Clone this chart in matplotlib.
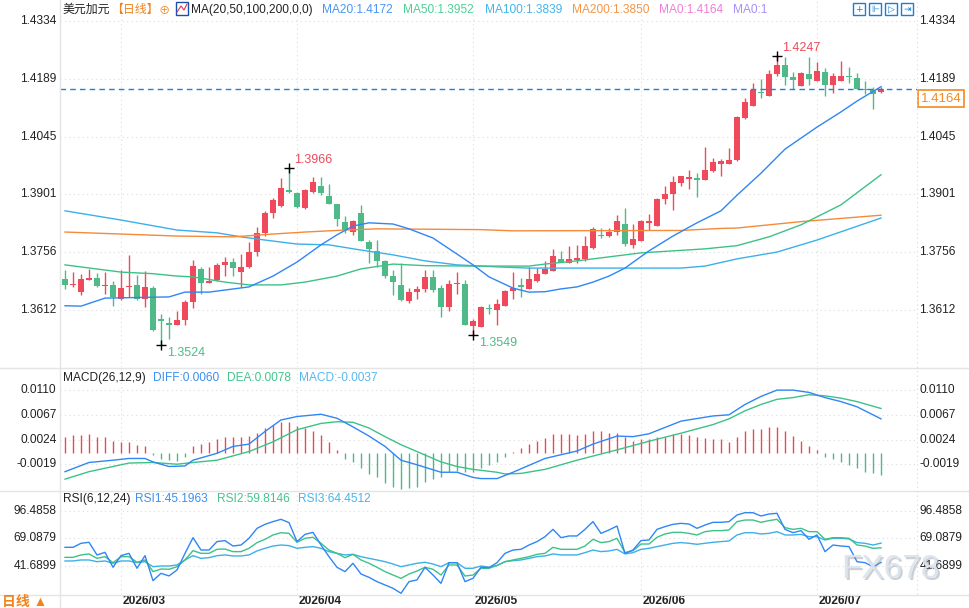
import matplotlib
matplotlib.use('Agg')
import matplotlib.pyplot as plt
import matplotlib.transforms as mtransforms
from matplotlib.patches import Rectangle
import numpy as np
import pandas as pd

plt.rcParams['font.family'] = ['Liberation Sans', 'Noto Sans CJK SC', 'DejaVu Sans']
plt.rcParams['font.size'] = 8.6

# USD/CAD daily candles
opens = [1.3690, 1.3674, 1.3657, 1.3687, 1.3692, 1.3672, 1.3675, 1.3640, 1.3670, 1.3675,
         1.3640, 1.3667, 1.3590, 1.3580, 1.3575, 1.3587, 1.3632, 1.3715, 1.3680, 1.3687,
         1.3725, 1.3732, 1.3707, 1.3720, 1.3757, 1.3805, 1.3855, 1.3872, 1.3912, 1.3904,
         1.3867, 1.3907, 1.3922, 1.3897, 1.3877, 1.3832, 1.3807, 1.3855, 1.3782, 1.3760,
         1.3735, 1.3697, 1.3675, 1.3635, 1.3657, 1.3665, 1.3695, 1.3667, 1.3620, 1.3677,
         1.3677, 1.3572, 1.3570, 1.3617, 1.3612, 1.3622, 1.3660, 1.3675, 1.3665, 1.3685,
         1.3702, 1.3710, 1.3740, 1.3730, 1.3737, 1.3740, 1.3767, 1.3800, 1.3797, 1.3807,
         1.3827, 1.3775, 1.3785, 1.3830, 1.3822, 1.3889, 1.3902, 1.3929, 1.3940, 1.3942,
         1.3937, 1.3959, 1.3977, 1.3977, 1.3987, 1.4092, 1.4122, 1.4157, 1.4147, 1.4202,
         1.4224, 1.4194, 1.4172, 1.4202, 1.4184, 1.4207, 1.4174, 1.4184, 1.4197, 1.4192,
         1.4164, 1.4162, 1.4156]
highs = [1.3712, 1.3707, 1.3702, 1.3715, 1.3705, 1.3707, 1.3685, 1.3712, 1.3750, 1.3700,
         1.3710, 1.3672, 1.3602, 1.3595, 1.3610, 1.3637, 1.3737, 1.3720, 1.3720, 1.3730,
         1.3745, 1.3742, 1.3752, 1.3782, 1.3820, 1.3860, 1.3892, 1.3942, 1.3966, 1.3907,
         1.3915, 1.3945, 1.3945, 1.3927, 1.3878, 1.3847, 1.3837, 1.3875, 1.3787, 1.3787,
         1.3736, 1.3712, 1.3730, 1.3667, 1.3672, 1.3712, 1.3712, 1.3675, 1.3687, 1.3707,
         1.3687, 1.3590, 1.3622, 1.3627, 1.3640, 1.3662, 1.3707, 1.3692, 1.3720, 1.3717,
         1.3735, 1.3765, 1.3760, 1.3772, 1.3775, 1.3797, 1.3820, 1.3817, 1.3817, 1.3850,
         1.3867, 1.3827, 1.3837, 1.3852, 1.3892, 1.3922, 1.3947, 1.3948, 1.3962, 1.3955,
         1.4019, 1.3992, 1.3989, 1.4017, 1.4096, 1.4142, 1.4179, 1.4189, 1.4212, 1.4247,
         1.4244, 1.4207, 1.4207, 1.4244, 1.4232, 1.4217, 1.4204, 1.4234, 1.4219, 1.4204,
         1.4184, 1.4169, 1.4169]
lows = [1.3665, 1.3670, 1.3650, 1.3687, 1.3671, 1.3652, 1.3622, 1.3637, 1.3645, 1.3637,
        1.3620, 1.3561, 1.3524, 1.3540, 1.3574, 1.3574, 1.3617, 1.3652, 1.3679, 1.3685,
        1.3697, 1.3697, 1.3670, 1.3717, 1.3747, 1.3797, 1.3842, 1.3869, 1.3904, 1.3867,
        1.3864, 1.3905, 1.3900, 1.3876, 1.3822, 1.3805, 1.3800, 1.3784, 1.3730, 1.3720,
        1.3692, 1.3650, 1.3636, 1.3630, 1.3640, 1.3657, 1.3657, 1.3595, 1.3610, 1.3652,
        1.3574, 1.3549, 1.3569, 1.3602, 1.3575, 1.3622, 1.3640, 1.3645, 1.3665, 1.3682,
        1.3702, 1.3710, 1.3732, 1.3730, 1.3730, 1.3735, 1.3765, 1.3792, 1.3795, 1.3800,
        1.3772, 1.3767, 1.3784, 1.3812, 1.3822, 1.3877, 1.3862, 1.3922, 1.3915, 1.3895,
        1.3936, 1.3957, 1.3947, 1.3976, 1.3985, 1.4090, 1.4121, 1.4142, 1.4146, 1.4197,
        1.4174, 1.4164, 1.4171, 1.4174, 1.4183, 1.4147, 1.4154, 1.4183, 1.4179, 1.4163,
        1.4152, 1.4114, 1.4154]
closes = [1.3675, 1.3678, 1.3690, 1.3692, 1.3672, 1.3676, 1.3645, 1.3667, 1.3672, 1.3640,
          1.3670, 1.3562, 1.3585, 1.3575, 1.3587, 1.3632, 1.3722, 1.3680, 1.3685, 1.3725,
          1.3732, 1.3717, 1.3720, 1.3757, 1.3805, 1.3855, 1.3887, 1.3917, 1.3907, 1.3869,
          1.3912, 1.3932, 1.3904, 1.3877, 1.3840, 1.3812, 1.3835, 1.3785, 1.3765, 1.3735,
          1.3697, 1.3682, 1.3637, 1.3657, 1.3665, 1.3695, 1.3662, 1.3620, 1.3677, 1.3680,
          1.3575, 1.3585, 1.3620, 1.3615, 1.3627, 1.3660, 1.3667, 1.3670, 1.3690, 1.3702,
          1.3715, 1.3747, 1.3732, 1.3740, 1.3742, 1.3772, 1.3815, 1.3797, 1.3807, 1.3835,
          1.3777, 1.3790, 1.3835, 1.3835, 1.3889, 1.3902, 1.3932, 1.3947, 1.3945, 1.3937,
          1.3962, 1.3982, 1.3984, 1.3987, 1.4094, 1.4132, 1.4162, 1.4154, 1.4202, 1.4224,
          1.4194, 1.4187, 1.4204, 1.4189, 1.4209, 1.4174, 1.4197, 1.4197, 1.4194, 1.4164,
          1.4162, 1.4152, 1.4164]

# moving averages, read at sample candles
ma20_idx = [0, 2, 5, 13, 15, 18, 23, 26, 29, 32, 34, 36, 38, 41, 43, 46, 49, 51, 53, 56,
            58, 60, 62, 64, 66, 68, 70, 73, 76, 79, 82, 84, 87, 90, 94, 97, 99, 102]
ma20_val = [1.3623, 1.3622, 1.3642, 1.3645, 1.3657, 1.3657, 1.3670, 1.3697, 1.3732, 1.3775,
            1.3800, 1.3822, 1.3830, 1.3827, 1.3815, 1.3792, 1.3752, 1.3725, 1.3695, 1.3667,
            1.3657, 1.3658, 1.3665, 1.3670, 1.3682, 1.3697, 1.3717, 1.3760, 1.3797, 1.3830,
            1.3860, 1.3899, 1.3954, 1.4014, 1.4069, 1.4107, 1.4134, 1.4170]
ma50_idx = [0, 7, 11, 14, 16, 20, 23, 27, 30, 34, 37, 41, 45, 51, 58, 60, 64, 68, 72, 76,
            80, 84, 88, 92, 97, 102]
ma50_val = [1.3725, 1.3707, 1.3703, 1.3697, 1.3695, 1.3682, 1.3675, 1.3675, 1.3682, 1.3697,
            1.3715, 1.3727, 1.3723, 1.3722, 1.3722, 1.3727, 1.3735, 1.3745, 1.3755, 1.3760,
            1.3765, 1.3773, 1.3795, 1.3825, 1.3875, 1.3950]
ma100_idx = [0, 7, 14, 19, 22, 25, 29, 33, 37, 41, 45, 49, 54, 58, 66, 77, 80, 84, 89, 94, 102]
ma100_val = [1.3860, 1.3837, 1.3812, 1.3805, 1.3795, 1.3787, 1.3777, 1.3775, 1.3762, 1.3750,
             1.3735, 1.3725, 1.3720, 1.3717, 1.3717, 1.3717, 1.3722, 1.3740, 1.3757, 1.3787, 1.3842]
ma200_idx = [0, 14, 21, 26, 30, 35, 39, 52, 56, 77, 79, 82, 84, 92, 102]
ma200_val = [1.3807, 1.3797, 1.3795, 1.3802, 1.3807, 1.3812, 1.3815, 1.3813, 1.3810, 1.3811,
             1.3813, 1.3816, 1.3817, 1.3833, 1.3849]

# MACD(26,12,9)
diff_idx = [0, 3, 6, 8, 10, 11, 13, 15, 16, 19, 21, 23, 25, 27, 29, 32, 34, 36, 38, 40,
            42, 44, 47, 49, 51, 52, 54, 56, 60, 64, 66, 69, 71, 73, 77, 81, 83, 85, 87, 89,
            91, 93, 95, 97, 99, 102]
diff_val = [-0.0032, -0.0016, -0.0012, -0.0009, -0.0009, -0.0015, -0.0023, -0.0022, -0.0012, 0.0000,
            0.0012, 0.0016, 0.0038, 0.0058, 0.0064, 0.0068, 0.0061, 0.0046, 0.0030, 0.0012,
            -0.0012, -0.0020, -0.0033, -0.0033, -0.0042, -0.0044, -0.0044, -0.0033, -0.0009, 0.0004,
            0.0016, 0.0030, 0.0029, 0.0034, 0.0056, 0.0065, 0.0067, 0.0085, 0.0099, 0.0110,
            0.0110, 0.0106, 0.0097, 0.0090, 0.0081, 0.0060]
dea_idx = [0, 3, 6, 8, 11, 14, 16, 19, 23, 26, 29, 32, 34, 36, 38, 40, 42, 44, 47, 49,
           51, 54, 55, 57, 60, 64, 69, 73, 77, 81, 83, 85, 87, 89, 91, 93, 95, 97, 99, 102]
dea_val = [-0.0045, -0.0032, -0.0023, -0.0017, -0.0016, -0.0019, -0.0016, -0.0012, 0.0003, 0.0020,
           0.0041, 0.0052, 0.0055, 0.0054, 0.0044, 0.0029, 0.0015, 0.0003, -0.0015, -0.0023,
           -0.0028, -0.0033, -0.0036, -0.0035, -0.0028, -0.0012, 0.0006, 0.0021, 0.0035, 0.0050,
           0.0060, 0.0074, 0.0085, 0.0094, 0.0097, 0.0102, 0.0100, 0.0096, 0.0090, 0.0078]
macd_hist = [0.0029, 0.0032, 0.0032, 0.0034, 0.0029, 0.0029, 0.0022, 0.0019, 0.0019, 0.0015,
             0.0013, -0.0003, -0.0010, -0.0012, -0.0013, -0.0006, 0.0012, 0.0016, 0.0020, 0.0025,
             0.0029, 0.0029, 0.0029, 0.0030, 0.0035, 0.0044, 0.0049, 0.0054, 0.0055, 0.0048,
             0.0044, 0.0039, 0.0032, 0.0020, 0.0006, -0.0010, -0.0016, -0.0026, -0.0036, -0.0042,
             -0.0052, -0.0059, -0.0062, -0.0061, -0.0058, -0.0050, -0.0045, -0.0041, -0.0033, -0.0031,
             -0.0032, -0.0033, -0.0026, -0.0020, -0.0016, -0.0006, 0.0003, 0.0010, 0.0016, 0.0022,
             0.0026, 0.0033, 0.0033, 0.0033, 0.0032, 0.0033, 0.0038, 0.0038, 0.0036, 0.0035,
             0.0029, 0.0021, 0.0025, 0.0025, 0.0029, 0.0029, 0.0033, 0.0033, 0.0032, 0.0028,
             0.0027, 0.0025, 0.0025, 0.0020, 0.0029, 0.0038, 0.0042, 0.0042, 0.0045, 0.0045,
             0.0038, 0.0030, 0.0021, 0.0012, 0.0006, -0.0006, -0.0010, -0.0015, -0.0020, -0.0026,
             -0.0032, -0.0035, -0.0037]

# RSI(6,12,24)
rsi1 = [60.3, 60.3, 64.3, 65.3, 52.7, 55.3, 40.4, 52.0, 54.3, 39.4,
        52.0, 27.1, 34.4, 31.8, 37.7, 54.3, 69.9, 57.6, 57.6, 66.0,
        67.0, 61.6, 62.6, 69.3, 79.2, 83.2, 85.9, 88.2, 84.9, 66.0,
        73.2, 75.2, 62.6, 51.0, 40.4, 36.1, 44.4, 33.7, 30.4, 26.1,
        22.8, 19.5, 14.5, 26.1, 27.8, 40.4, 32.7, 24.4, 45.0, 45.0,
        26.1, 29.4, 40.5, 40.0, 45.0, 54.3, 57.6, 58.3, 62.6, 66.0,
        70.9, 78.2, 69.9, 71.6, 71.6, 78.2, 85.9, 74.2, 77.6, 81.5,
        54.3, 57.6, 67.0, 67.6, 78.2, 80.9, 83.2, 84.2, 83.5, 79.2,
        82.5, 85.2, 85.2, 85.9, 92.5, 94.8, 94.8, 91.5, 93.5, 94.2,
        78.2, 74.9, 76.9, 68.3, 72.6, 56.0, 62.6, 61.6, 61.0, 46.0,
        45.0, 41.0, 45.2]
rsi2 = [50.3, 50.3, 52.7, 53.7, 49.3, 51.0, 45.0, 51.0, 51.0, 45.4,
        47.7, 36.1, 38.7, 38.4, 41.0, 47.7, 57.0, 54.3, 54.3, 58.3,
        58.6, 56.0, 56.0, 59.3, 65.0, 68.3, 72.6, 74.9, 74.2, 65.3,
        69.3, 70.3, 64.3, 57.6, 54.3, 50.0, 53.3, 47.7, 44.4, 40.4,
        36.1, 32.7, 29.4, 33.7, 36.7, 40.4, 38.4, 32.7, 42.7, 42.7,
        31.7, 32.7, 39.4, 39.4, 42.2, 46.0, 47.7, 49.3, 51.0, 53.3,
        54.3, 60.3, 58.3, 58.3, 58.3, 61.6, 68.3, 65.0, 66.0, 69.3,
        55.0, 57.0, 63.6, 63.6, 70.3, 73.6, 75.2, 75.2, 74.2, 72.6,
        75.9, 76.9, 76.9, 77.6, 85.9, 87.5, 87.5, 85.2, 86.9, 88.2,
        79.9, 78.2, 79.2, 75.9, 75.9, 68.3, 69.9, 69.9, 69.3, 62.6,
        61.6, 59.3, 59.8]
rsi3 = [46.7, 46.7, 47.7, 47.7, 46.0, 46.7, 44.4, 46.7, 46.7, 45.0,
        46.0, 41.0, 41.7, 41.7, 42.7, 47.7, 52.0, 49.3, 50.0, 52.0,
        52.7, 51.7, 51.7, 52.7, 56.7, 59.3, 61.6, 62.6, 62.0, 59.3,
        60.3, 61.0, 59.3, 56.0, 54.3, 52.7, 53.3, 51.0, 49.3, 47.7,
        46.0, 43.7, 41.0, 42.7, 44.4, 45.4, 43.7, 41.0, 45.0, 45.0,
        39.4, 39.4, 41.7, 40.5, 42.2, 46.0, 47.0, 47.7, 49.3, 51.0,
        51.7, 53.7, 52.7, 52.7, 52.7, 55.0, 57.6, 56.0, 56.7, 58.3,
        53.7, 55.0, 58.3, 59.3, 61.0, 62.6, 64.3, 65.0, 64.3, 63.3,
        64.3, 65.3, 66.0, 66.6, 72.6, 74.9, 74.9, 73.6, 74.2, 75.9,
        72.6, 72.6, 73.2, 70.9, 70.9, 67.6, 69.3, 69.3, 68.6, 65.0,
        64.3, 62.6, 64.5]

price_ticks = [1.4334, 1.4189, 1.4045, 1.3901, 1.3756, 1.3612]
macd_ticks = [0.0110, 0.0067, 0.0024, -0.0019]
rsi_ticks = [96.4858, 69.0879, 41.6899]

# marked extremes: (candle, price, above?)
marks = [(12, 1.3524, False), (28, 1.3966, True), (51, 1.3549, False), (89, 1.4247, True)]

RED = '#ee4a5b'
GREEN = '#4fba88'
BLUE = '#2f86f6'
MGREEN = '#3cc286'
LBLUE = '#3cb0e8'
ORANGE = '#f58a3a'
GRID = '#dcdcdc'
TXT = '#222222'

x = np.arange(len(closes))
dates = pd.bdate_range('2026-02-19', periods=len(closes))
month_starts = [i for i in range(1, len(dates)) if dates[i].month != dates[i - 1].month]

W, H = 970, 608
fig = plt.figure(figsize=(W / 100, H / 100), dpi=100)
fig.patch.set_facecolor('white')


def rect(x0, y0, x1, y1):
    return [x0 / W, 1 - y1 / H, (x1 - x0) / W, (y1 - y0) / H]


def fx(px):
    return px / W


def fy(py):
    return 1 - py / H


ax1 = fig.add_axes(rect(60, 0, 917, 367))
ax2 = fig.add_axes(rect(60, 368, 917, 490))
ax3 = fig.add_axes(rect(60, 491, 917, 594))
ax1.set_ylim(1.34700, 1.43864)
ax2.set_ylim(-0.00639, 0.01485)
ax3.set_ylim(13.79, 116.41)

for ax, ticks, fmt in [(ax1, price_ticks, '{:.4f}'), (ax2, macd_ticks, '{:.4f}'),
                       (ax3, rsi_ticks, '{:.4f}')]:
    ax.set_xlim(-0.625, 106.5)
    for s in ax.spines.values():
        s.set_visible(False)
    ax.set_xticks([])
    ax.set_yticks([])
    ax.patch.set_alpha(0)
    for t in ticks:
        ax.axhline(t, color=GRID, lw=0.8, ls=(0, (1, 3)), zorder=0)
    for m in month_starts:
        ax.axvline(m, color=GRID, lw=0.8, ls=(0, (1, 3)), zorder=0)
    tr = mtransforms.blended_transform_factory(ax.transAxes, ax.transData)
    for t in ticks:
        ax.text(-3.5 / 857, t, fmt.format(t), transform=tr, ha='right', va='center', color=TXT)
        ax.text(1 + 2.5 / 857, t, fmt.format(t), transform=tr, ha='left', va='center', color=TXT)

# panel separators
for py in [367.5, 490.5, 594.5]:
    fig.add_artist(plt.Line2D([0, 1], [fy(py), fy(py)], color='#e4e4e4', lw=1))
fig.add_artist(plt.Line2D([fx(60), fx(60)], [0, 1], color='#e4e4e4', lw=1))
fig.add_artist(plt.Line2D([fx(917), fx(917)], [fy(594), 1], color='#d8d8d8', lw=0.8,
                          ls=(0, (1, 3))))

# candles
o = np.array(opens)
c = np.array(closes)
hi = np.array(highs)
lo = np.array(lows)
cols = np.where(c >= o, RED, GREEN)
ax1.vlines(x, lo, hi, colors=cols, lw=1, zorder=2)
ax1.bar(x, np.maximum(np.abs(c - o), 0.00028), 0.8, bottom=np.minimum(o, c),
        color=cols, lw=0, zorder=3)

ax1.plot(ma100_idx, ma100_val, color=LBLUE, lw=1, zorder=4)
ax1.plot(ma200_idx, ma200_val, color=ORANGE, lw=1, zorder=4)
ax1.plot(ma50_idx, ma50_val, color=MGREEN, lw=1, zorder=4)
ax1.plot(ma20_idx, ma20_val, color=BLUE, lw=1, zorder=4)

last = closes[-1]
ax1.axhline(last, color='#1f7fe5', lw=1, ls=(0, (4, 3)), zorder=5)
tr1 = mtransforms.blended_transform_factory(ax1.transAxes, ax1.transData)
ax1.text(1 + 4 / 857, last - 0.0009, f'{last:.4f}', transform=tr1, ha='left', va='top',
         color='#f58a1f', fontsize=9.5,
         bbox=dict(boxstyle='square,pad=0.2', fc='white', ec='#f58a1f', lw=1.2))

for i, p, above in marks:
    ax1.plot(i, p, marker='+', color='black', ms=7, mew=1, zorder=6)
    if above:
        ax1.annotate(f'{p:.4f}', (i, p), xytext=(3.6, 5.8), textcoords='offset points',
                     ha='left', va='center', color=RED, fontsize=9)
    else:
        ax1.annotate(f'{p:.4f}', (i, p), xytext=(4.3, -5.2), textcoords='offset points',
                     ha='left', va='center', color=GREEN, fontsize=9)

# MACD panel
hist = np.array(macd_hist)
ax2.vlines(x, 0, hist, colors=np.where(hist >= 0, '#e8495a', '#4fb886'), lw=1, zorder=2)
ax2.plot(dea_idx, dea_val, color=MGREEN, lw=1, zorder=3)
ax2.plot(diff_idx, diff_val, color=BLUE, lw=1, zorder=3)

# RSI panel
ax3.plot(x, rsi3, color=LBLUE, lw=1, zorder=3)
ax3.plot(x, rsi2, color=MGREEN, lw=1, zorder=3)
ax3.plot(x, rsi1, color=BLUE, lw=1, zorder=3)

tr3 = mtransforms.blended_transform_factory(ax3.transData, ax3.transAxes)
for m in month_starts:
    ax3.text(m + 0.2, -0.068, dates[m].strftime('%Y/%m'), transform=tr3, ha='left',
             va='center', fontweight='bold', color=TXT)

# headers
def head(px, py, s, color, **kw):
    fig.text(fx(px), fy(py), s, color=color, ha='left', va='center', **kw)


head(62, 10, '美元加元', TXT)
head(111, 10, '【日线】', '#f0831e')
head(159, 10.5, '⊕', '#f0831e', fontsize=8)
fig.add_artist(Rectangle((fx(176), fy(15)), 12 / W, 13 / H, fill=False, ec='#1a4fb0', lw=1))
fig.add_artist(plt.Line2D([fx(177), fx(181), fx(184), fx(187)], [fy(12), fy(6), fy(10), fy(4)],
                          color='#e0364a', lw=0.8))
head(191, 10, 'MA(20,50,100,200,0,0)', TXT)
head(322, 10, 'MA20:1.4172', '#4a95f2')
head(403, 10, 'MA50:1.3952', '#4dcf95')
head(485, 10, 'MA100:1.3839', '#43b5ea')
head(572, 10, 'MA200:1.3850', '#f59548')
head(659, 10, 'MA0:1.4164', '#ee7fd6')
head(733, 10, 'MA0:1', '#a890f5')

for k, sym in enumerate(['+', '⊩', '▷', '⇥']):
    x0 = 853 + 16 * k
    fig.add_artist(Rectangle((fx(x0), fy(15)), 12 / W, 12 / H, fill=False, ec='#1a7fd4', lw=1))
    fig.text(fx(x0 + 6), fy(9), sym, color='#1a7fd4', ha='center', va='center', fontsize=6.5,
             family='DejaVu Sans')

head(63, 378, 'MACD(26,12,9)', TXT)
head(153, 378, 'DIFF:0.0060', '#3d8ef0')
head(227, 378, 'DEA:0.0078', '#45c48c')
head(299, 378, 'MACD:-0.0037', '#5ab8ee')

head(63, 499, 'RSI(6,12,24)', TXT)
head(135, 499, 'RSI1:45.1963', '#3d8ef0')
head(217, 499, 'RSI2:59.8146', '#45c48c')
head(298, 499, 'RSI3:64.4512', '#45b5ea')

head(2, 602, '日线 ▲', '#f0831e', fontsize=10, fontweight='bold')

# watermark
fig.text(fx(892), fy(571), 'FX678', color='#8f98a3', ha='center', va='center', fontsize=24,
         alpha=0.45)
fig.text(fx(890.5), fy(569.5), 'FX678', color='#dce4ee', ha='center', va='center', fontsize=24,
         alpha=0.95)

fig.savefig('out.png', dpi=100, facecolor='white')
